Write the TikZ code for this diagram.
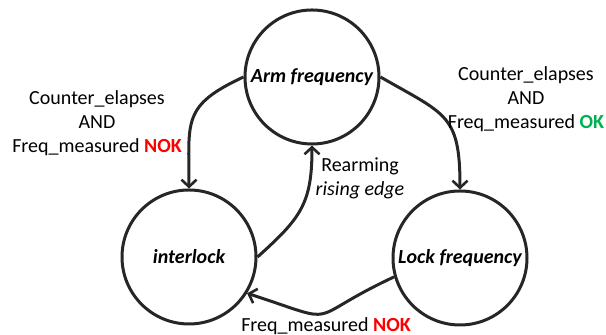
\documentclass[tikz,border=0pt]{standalone}
\usepackage{fontspec}
\setmainfont{Carlito}
\usepackage{xcolor}
\usepackage{tikz}
\usetikzlibrary{positioning,arrows.meta}
\definecolor{trait}{RGB}{38,38,38}
\definecolor{rouge}{RGB}{255,0,0}
\definecolor{vert}{RGB}{0,176,80}

\begin{document}
\begin{tikzpicture}[x=0.5pt, y=0.5pt,
  etat/.style={circle, draw=trait, line width=1.5pt, minimum size=67pt, inner sep=0pt,
               font=\bfseries\itshape},
  fl/.style={-{Straight Barb[length=3.5pt, width=7.5pt, line width=1.3pt]}, line width=1.5pt, draw=trait},
  lab/.style={align=center, inner sep=0pt}]

\useasboundingbox (0,0) rectangle (606,335);

% les trois etats
\node[etat] (arm) at (312, 258) {Arm frequency};
\node[etat] (inter) at (189, 78) {interlock};
\node[etat] (lock) at (460, 77) {Lock frequency};

% transitions
\draw[fl] (arm.west) to[out=205, in=90, looseness=1.4] (inter.north);
\draw[fl] (arm.east) to[out=-30, in=90, looseness=1.4] (lock.north);
\draw[fl] (inter.east) to[out=42, in=-90, looseness=1.2] (arm.south);
\draw[fl] (lock.196) to[out=205, in=-18, looseness=1.8] (inter.-32);

% etiquettes
\node[lab] (tNok) at (97, 212) {Counter\_elapses\\ AND\\ Freq\_measured {\color{rouge}\textbf{NOK}}};
\node[lab] (tOk) at (526, 236) {Counter\_elapses\\ AND\\ Freq\_measured {\color{vert}\textbf{OK}}};
\node[lab] (tRe) at (360, 156.5) {Rearming\\ \textit{rising edge}};
\node[lab] (tBas) at (326, 9) {Freq\_measured {\color{rouge}\textbf{NOK}}};

\end{tikzpicture}
\end{document}
